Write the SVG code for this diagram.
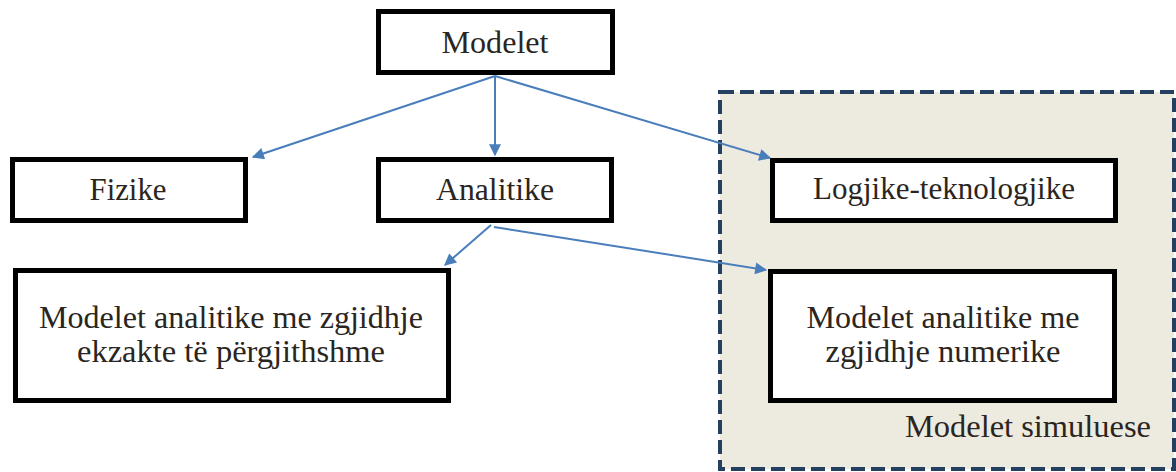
<svg xmlns="http://www.w3.org/2000/svg" width="1176" height="472" viewBox="0 0 1176 472">
  <defs>
    <marker id="arrow" viewBox="0 0 10 10" refX="9" refY="5" markerWidth="7.5" markerHeight="6" markerUnits="strokeWidth" orient="auto">
      <path d="M0,0 L10,5 L0,10 z" fill="#4a7ebb"/>
    </marker>
    <style>
      .box { fill: #ffffff; stroke: #000000; stroke-width: 5; }
      .lbl { font-size: 31px; fill: #2a2520; text-anchor: middle; }
      .edge { fill: none; stroke: #4a7ebb; stroke-width: 2; marker-end: url(#arrow); }
      .group { fill: #edeae0; stroke: #243f60; stroke-width: 4; stroke-dasharray: 14 6; }
    </style>
  </defs>

  <rect width="1176" height="472" fill="#ffffff"/>

  <g font-family="'Liberation Serif', 'DejaVu Serif', serif">
  <!-- simulation models region -->
  <g id="simuluese">
    <rect class="group" x="720" y="92" width="454" height="377"/>
    <text class="lbl" x="1028" y="437" textLength="246" lengthAdjust="spacingAndGlyphs">Modelet simuluese</text>
  </g>

  <g id="modelet">
    <rect class="box" x="378.5" y="11.5" width="234" height="61"/>
    <text class="lbl" x="495" y="53" textLength="107" lengthAdjust="spacingAndGlyphs">Modelet</text>
  </g>

  <g id="fizike">
    <rect class="box" x="12.5" y="159.5" width="233" height="61"/>
    <text class="lbl" x="128" y="200" textLength="77" lengthAdjust="spacingAndGlyphs">Fizike</text>
  </g>

  <g id="analitike">
    <rect class="box" x="378.5" y="159.5" width="233" height="61"/>
    <text class="lbl" x="495" y="200" textLength="118" lengthAdjust="spacingAndGlyphs">Analitike</text>
  </g>

  <g id="logjike">
    <rect class="box" x="772.5" y="160.5" width="343" height="60"/>
    <text class="lbl" x="944" y="199" textLength="262" lengthAdjust="spacingAndGlyphs">Logjike-teknologjike</text>
  </g>

  <g id="ekzakte">
    <rect class="box" x="15.5" y="270.5" width="433" height="130"/>
    <text class="lbl" x="231" y="328" textLength="384" lengthAdjust="spacingAndGlyphs">Modelet analitike me zgjidhje</text>
    <text class="lbl" x="231" y="362" textLength="308" lengthAdjust="spacingAndGlyphs">ekzakte të përgjithshme</text>
  </g>

  <g id="numerike">
    <rect class="box" x="770.5" y="271.5" width="344" height="129"/>
    <text class="lbl" x="943" y="328" textLength="273" lengthAdjust="spacingAndGlyphs">Modelet analitike me</text>
    <text class="lbl" x="943" y="362" textLength="235" lengthAdjust="spacingAndGlyphs">zgjidhje numerike</text>
  </g>
  </g>

  <g id="connectors">
    <line class="edge" x1="495" y1="76" x2="253" y2="157"/>
    <line class="edge" x1="495" y1="76" x2="495" y2="155"/>
    <line class="edge" x1="495" y1="76" x2="770" y2="158"/>
    <line class="edge" x1="491" y1="225" x2="445" y2="265"/>
    <line class="edge" x1="494" y1="227" x2="766" y2="270"/>
  </g>
</svg>
